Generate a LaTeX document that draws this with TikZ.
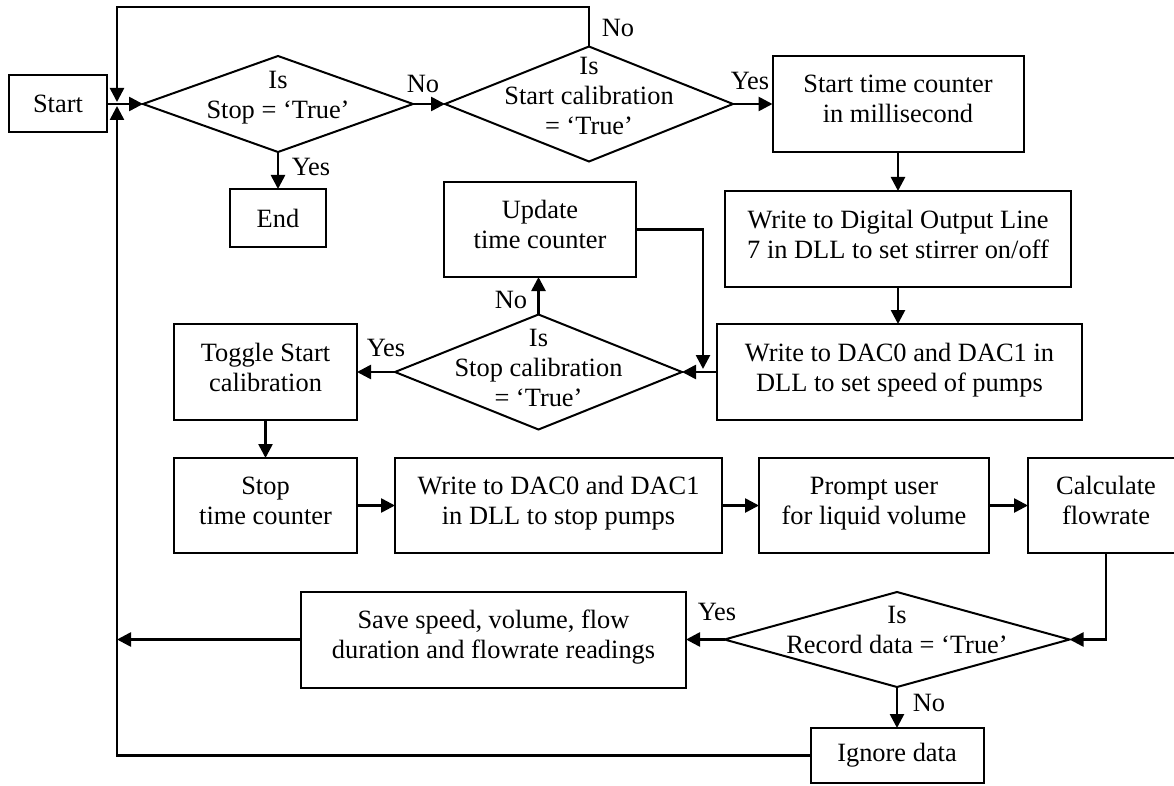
\documentclass[tikz,border=0pt]{standalone}
\usepackage{fontspec}
\setmainfont{Liberation Serif}
\usetikzlibrary{shapes.geometric,arrows.meta}
\begin{document}
\begin{tikzpicture}[x=1pt,y=-1pt,
  every node/.style={font=\fontsize{26.4}{30}\selectfont},
  box/.style={draw,line width=2pt,rectangle,align=center,inner sep=0pt,outer sep=0pt},
  tbox/.style={box,text depth=10pt},
  dec/.style={draw,line width=2pt,diamond,inner sep=0pt,outer sep=0pt},
  dtext/.style={align=center,inner sep=0pt},
  lbl/.style={inner sep=0pt},
  flow/.style={line width=2.6pt,-{Triangle[length=14pt,width=14pt]}}
]
\useasboundingbox (0,0) rectangle (1174,786);

% process boxes
\node[box,minimum width=98pt,minimum height=57pt] (start) at (58,104) {Start};
\node[box,minimum width=96pt,minimum height=58pt] (end) at (278,218) {End};
\node[tbox,minimum width=251pt,minimum height=96pt] (stc) at (898,104) {Start time counter\\in millisecond};
\node[tbox,minimum width=346pt,minimum height=96pt] (wdo) at (898,239) {Write to Digital Output Line\\7 in DLL to set stirrer on/off};
\node[tbox,minimum width=365pt,minimum height=96pt] (wdac) at (899.5,372) {Write to DAC0 and DAC1 in\\DLL to set speed of pumps};
\node[tbox,minimum width=192pt,minimum height=95pt] (upd) at (540,229.5) {Update\\time counter};
\node[tbox,minimum width=183pt,minimum height=96pt] (toggle) at (265.5,372) {Toggle Start\\calibration};
\node[tbox,minimum width=183pt,minimum height=95pt] (stoptc) at (265.5,505.5) {Stop\\time counter};
\node[tbox,minimum width=327pt,minimum height=95pt] (wstop) at (558.5,505.5) {Write to DAC0 and DAC1\\in DLL to stop pumps};
\node[tbox,minimum width=230pt,minimum height=95pt] (prompt) at (874,505.5) {Prompt user\\for liquid volume};
\node[tbox,minimum width=156pt,minimum height=95pt] (calc) at (1106,505.5) {Calculate\\flowrate};
\node[tbox,minimum width=385pt,minimum height=96pt] (save) at (493.5,639.5) {Save speed, volume, flow\\duration and flowrate readings};
\node[box,minimum width=173pt,minimum height=55pt] (ign) at (897,755.5) {Ignore data};

% decisions
\node[dec,minimum width=270pt,minimum height=96pt] (stopq) at (278,104) {};
\node[dtext] (stopqtxt) at ([yshift=6pt]stopq.center) {Is\\Stop = ‘True’};
\node[dec,minimum width=288pt,minimum height=115pt] (startq) at (589,104) {};
\node[dtext] (startqtxt) at ([yshift=8pt]startq.center) {Is\\Start calibration\\= ‘True’};
\node[dec,minimum width=287pt,minimum height=115pt] (stopcal) at (538.5,372) {};
\node[dtext] (stopcaltxt) at ([yshift=4pt]stopcal.center) {Is\\Stop calibration\\= ‘True’};
\node[dec,minimum width=345pt,minimum height=95pt] (recq) at (897,639.5) {};
\node[dtext] (recqtxt) at ([yshift=10pt]recq.center) {Is\\Record data = ‘True’};

% branch labels
\node[lbl] (l1) at (423,84) {No};
\node[lbl] (l2) at (311,167) {Yes};
\node[lbl] (l3) at (618,28) {No};
\node[lbl] (l4) at (750,81) {Yes};
\node[lbl] (l5) at (511,300) {No};
\node[lbl] (l6) at (386,348) {Yes};
\node[lbl] (l7) at (717,612) {Yes};
\node[lbl] (l8) at (929,703) {No};

% junction points of the return paths
\coordinate (J) at (117,104);
\coordinate (top) at (117,7);
\coordinate (updin) at (703,369);

% connectors
\draw[flow] (start.east) -- (stopq.west);
\draw[flow] (stopq.east) -- (startq.west);
\draw[flow] (startq.east) -- (stc.west);
\draw[flow] (stopq.south) -- (end.north);
\draw[flow,shorten >=2pt] (startq.north) |- (top) -- (J);
\draw[flow] (stc.south) -- (wdo.north);
\draw[flow] (wdo.south) -- (wdo.south |- wdac.north);
\draw[flow] (wdac.west) -- (stopcal.east);
\draw[flow] (stopcal.north) -- (stopcal.north |- upd.south);
\draw[flow] (upd.east) -| (updin);
\draw[flow] (stopcal.west) -- (toggle.east);
\draw[flow] (toggle.south) -- (stoptc.north);
\draw[flow] (stoptc.east) -- (wstop.west);
\draw[flow] (wstop.east) -- (prompt.west);
\draw[flow] (prompt.east) -- (calc.west);
\draw[flow] (calc.south) |- (recq.east);
\draw[flow] (recq.west) -- (save.east);
\draw[flow] (recq.south) -- (ign.north);
\draw[flow] (save.west) -- (save.west -| J);
\draw[flow,shorten >=2pt] (ign.west) -| (J);
\end{tikzpicture}
\end{document}
